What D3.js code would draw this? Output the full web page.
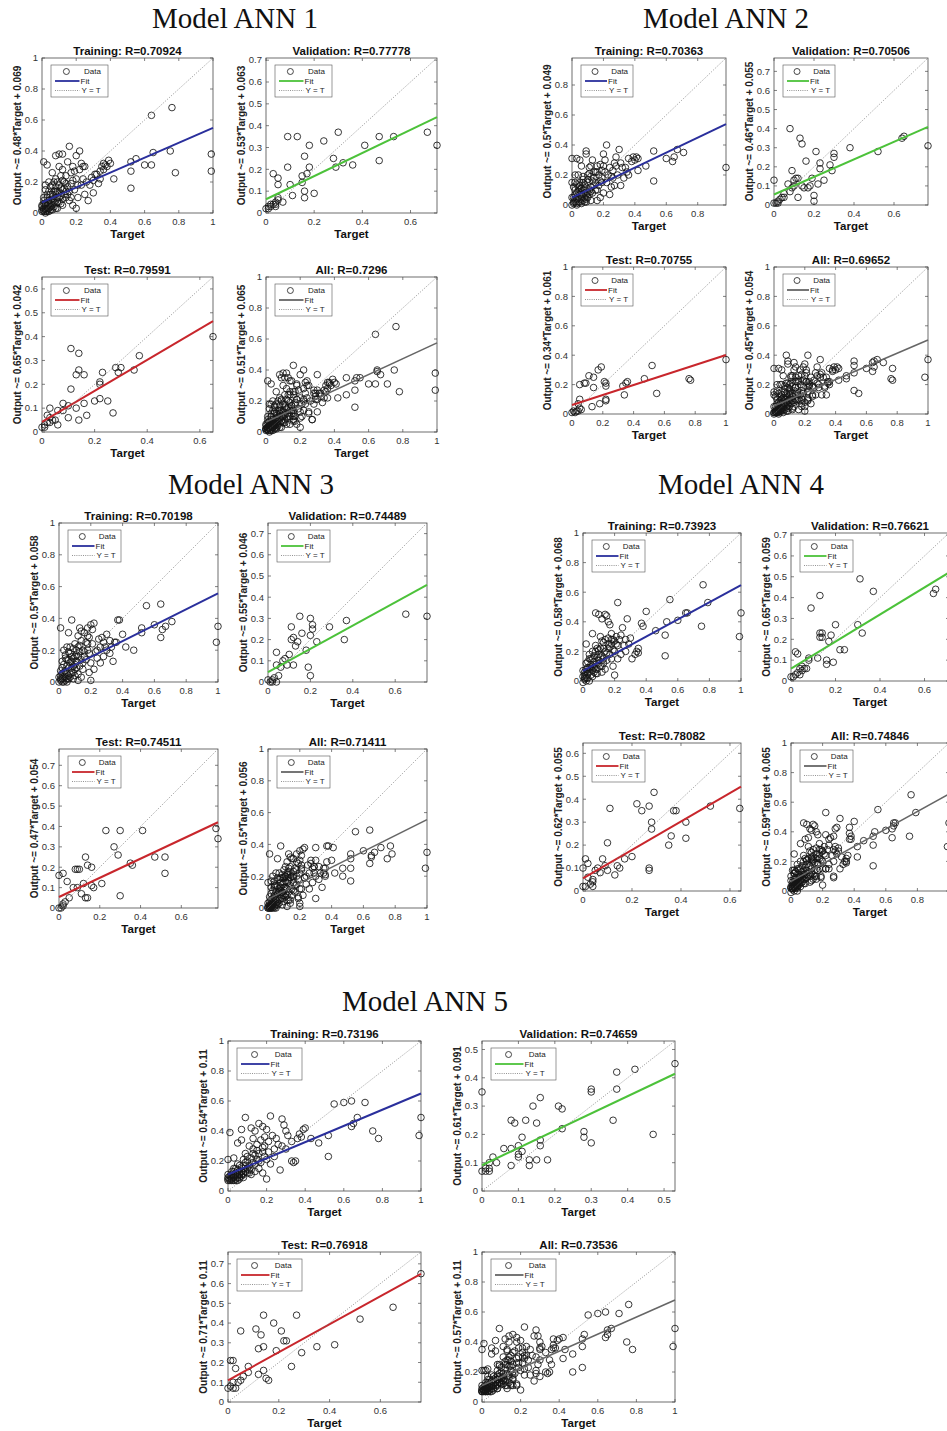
<!DOCTYPE html>
<html>
<head>
<meta charset="utf-8">
<script src="https://cdn.jsdelivr.net/npm/d3@7"></script>
<style>
  body { margin: 0; background: #fff; }
  text { font-family: "Liberation Sans", Arial, sans-serif; }
</style>
</head>
<body>
<script>
// ---------- data (target, output) ----------
const panelNames = ["Training", "Validation", "Test", "All"];
const modelNames = ["Model ANN 1", "Model ANN 2", "Model ANN 3", "Model ANN 4", "Model ANN 5"];

// R per panel
const ann1R = [0.70924, 0.77778, 0.79591, 0.7296];
const ann2R = [0.70363, 0.70506, 0.70755, 0.69652];
const ann3R = [0.70198, 0.74489, 0.74511, 0.71411];
const ann4R = [0.73923, 0.76621, 0.78082, 0.74846];
const ann5R = [0.73196, 0.74659, 0.76918, 0.73536];

// fit: [slope, intercept]
const ann1Fit = [[0.48, 0.069], [0.53, 0.063], [0.65, 0.042], [0.51, 0.065]];
const ann2Fit = [[0.5, 0.049], [0.46, 0.055], [0.34, 0.061], [0.45, 0.054]];
const ann3Fit = [[0.5, 0.058], [0.55, 0.046], [0.47, 0.054], [0.5, 0.056]];
const ann4Fit = [[0.58, 0.068], [0.65, 0.059], [0.62, 0.055], [0.59, 0.065]];
const ann5Fit = [[0.54, 0.11], [0.61, 0.091], [0.71, 0.11], [0.57, 0.11]];

// axis limits per panel
const ann1Max = [1, 0.71, 0.65, 1];
const ann2Max = [0.98, 0.77, 1, 1];
const ann3Max = [1, 0.75, 0.78, 1];
const ann4Max = [1, 0.71, 0.645, 1];
const ann5Max = [1, 0.53, 0.76, 1];

const ann1Train = [[0.64,0.63],[0.76,0.68],[0.99,0.38],[0.99,0.27],[0.78,0.26],[0.75,0.40],[0.65,0.39],[0.64,0.31],[0.60,0.31],[0.55,0.35],[0.52,0.33],[0.52,0.27],[0.52,0.16],[0.42,0.22],[0.39,0.34],[0.37,0.31],[0.36,0.32],[0.35,0.30],[0.34,0.22],[0.33,0.19],[0.31,0.25],[0.30,0.21],[0.27,0.08],[0.29,0.23],[0.25,0.30],[0.24,0.30],[0.22,0.40],[0.20,0.37],[0.18,0.30],[0.16,0.43],[0.12,0.38],[0.10,0.38],[0.08,0.37],[0.01,0.33],[0.03,0.31],[0.02,0.15],[0.04,0.20],[0.06,0.26],[0.08,0.22],[0.10,0.30],[0.12,0.28],[0.14,0.24],[0.15,0.33],[0.17,0.19],[0.19,0.15],[0.20,0.22],[0.22,0.28],[0.23,0.18],[0.25,0.12],[0.21,0.10],[0.20,0.03],[0.18,0.05],[0.16,0.08],[0.13,0.12],[0.11,0.16],[0.09,0.10],[0.07,0.14],[0.05,0.08],[0.03,0.05],[0.02,0.03],[0.01,0.02],[0.00,0.04],[0.04,0.03],[0.06,0.05],[0.08,0.06],[0.10,0.07],[0.12,0.05],[0.14,0.10],[0.05,0.12],[0.03,0.10],[0.01,0.08],[0.02,0.06],[0.06,0.18],[0.09,0.20],[0.11,0.24],[0.13,0.20],[0.15,0.17],[0.17,0.26],[0.19,0.27],[0.21,0.18],[0.24,0.22],[0.26,0.20],[0.28,0.18],[0.30,0.13],[0.32,0.25],[0.34,0.27],[0.36,0.28],[0.38,0.30],[0.40,0.32],[0.23,0.32],[0.07,0.04],[0.09,0.03],[0.05,0.02],[0.03,0.01],[0.00,0.02],[0.01,0.01],[0.02,0.01],[0.04,0.06],[0.06,0.09],[0.08,0.12],[0.10,0.13],[0.12,0.15],[0.14,0.14]];
const ann1TrainLow = [[0.01,0.03],[0.02,0.05],[0.03,0.02],[0.04,0.08],[0.05,0.04],[0.06,0.07],[0.07,0.09],[0.08,0.03],[0.09,0.14],[0.10,0.10],[0.11,0.06],[0.12,0.09],[0.13,0.16],[0.03,0.12],[0.04,0.14],[0.05,0.17],[0.02,0.18],[0.06,0.12],[0.07,0.20],[0.08,0.17],[0.09,0.07],[0.10,0.18],[0.11,0.11],[0.12,0.21],[0.14,0.19],[0.15,0.12],[0.16,0.14],[0.17,0.10],[0.18,0.21],[0.01,0.06],[0.00,0.01],[0.02,0.00],[0.03,0.03],[0.04,0.01],[0.05,0.06],[0.06,0.02],[0.07,0.07],[0.08,0.14],[0.00,0.05],[0.01,0.10]];
const ann1Val = [[0.67,0.37],[0.71,0.31],[0.53,0.35],[0.47,0.35],[0.47,0.24],[0.41,0.31],[0.36,0.22],[0.32,0.23],[0.30,0.37],[0.28,0.25],[0.29,0.21],[0.24,0.33],[0.20,0.09],[0.18,0.31],[0.18,0.21],[0.17,0.18],[0.16,0.26],[0.16,0.10],[0.16,0.07],[0.15,0.17],[0.15,0.14],[0.13,0.35],[0.11,0.08],[0.10,0.13],[0.09,0.35],[0.09,0.21],[0.05,0.16],[0.05,0.13],[0.05,0.07],[0.03,0.18],[0.07,0.05],[0.04,0.04],[0.04,0.05],[0.03,0.04],[0.02,0.04],[0.01,0.03],[0.00,0.02],[0.01,0.02],[0.02,0.03],[0.05,0.06],[0.04,0.03]];
const ann1Test = [[0.65,0.40],[0.37,0.32],[0.35,0.26],[0.30,0.27],[0.28,0.27],[0.29,0.25],[0.23,0.25],[0.22,0.21],[0.22,0.20],[0.22,0.14],[0.25,0.13],[0.27,0.08],[0.20,0.13],[0.17,0.07],[0.16,0.12],[0.16,0.24],[0.14,0.26],[0.14,0.33],[0.13,0.24],[0.11,0.35],[0.11,0.18],[0.13,0.10],[0.14,0.05],[0.10,0.11],[0.10,0.06],[0.08,0.12],[0.08,0.09],[0.06,0.09],[0.05,0.05],[0.06,0.03],[0.03,0.10],[0.03,0.06],[0.02,0.07],[0.04,0.05],[0.02,0.04],[0.01,0.03],[0.00,0.02],[0.01,0.02],[0.03,0.04]];

const ann2Train = [[0.98,0.25],[0.71,0.35],[0.67,0.37],[0.64,0.29],[0.65,0.32],[0.60,0.31],[0.52,0.36],[0.52,0.16],[0.47,0.26],[0.42,0.31],[0.41,0.32],[0.40,0.30],[0.39,0.32],[0.38,0.29],[0.42,0.23],[0.35,0.22],[0.36,0.20],[0.32,0.25],[0.30,0.37],[0.28,0.32],[0.27,0.28],[0.26,0.18],[0.25,0.12],[0.27,0.13],[0.22,0.40],[0.20,0.34],[0.18,0.27],[0.16,0.26],[0.15,0.22],[0.13,0.30],[0.12,0.26],[0.09,0.36],[0.09,0.34],[0.06,0.26],[0.03,0.31],[0.00,0.31],[0.05,0.30],[0.02,0.15],[0.04,0.20],[0.07,0.15],[0.10,0.20],[0.11,0.25],[0.14,0.18],[0.17,0.13],[0.19,0.15],[0.21,0.22],[0.23,0.20],[0.24,0.25],[0.26,0.23],[0.29,0.20],[0.31,0.13],[0.33,0.18],[0.20,0.08],[0.18,0.05],[0.15,0.10],[0.12,0.12],[0.10,0.08],[0.08,0.05],[0.06,0.06],[0.05,0.10],[0.03,0.04],[0.02,0.02],[0.01,0.01],[0.00,0.00],[0.04,0.02],[0.06,0.08],[0.08,0.10],[0.09,0.02],[0.07,0.03],[0.03,0.08],[0.01,0.05],[0.02,0.10],[0.05,0.15],[0.07,0.19],[0.10,0.15],[0.12,0.19],[0.14,0.13],[0.16,0.22],[0.19,0.18],[0.22,0.15],[0.24,0.07],[0.16,0.03],[0.11,0.10],[0.09,0.07],[0.04,0.12],[0.13,0.08],[0.36,0.31],[0.34,0.25],[0.31,0.28],[0.28,0.26],[0.25,0.19],[0.21,0.30]];
const ann2TrainLow = [[0.01,0.02],[0.02,0.04],[0.03,0.01],[0.04,0.05],[0.05,0.02],[0.06,0.04],[0.07,0.07],[0.08,0.02],[0.09,0.12],[0.10,0.05],[0.11,0.07],[0.12,0.03],[0.13,0.16],[0.03,0.14],[0.04,0.09],[0.05,0.13],[0.02,0.07],[0.06,0.11],[0.07,0.17],[0.08,0.14],[0.09,0.04],[0.10,0.17],[0.11,0.21],[0.12,0.09],[0.14,0.22],[0.15,0.15],[0.16,0.10],[0.17,0.20],[0.18,0.16],[0.01,0.12],[0.00,0.05],[0.00,0.15],[0.02,0.20],[0.03,0.00],[0.05,0.07],[0.06,0.01],[0.07,0.10],[0.08,0.08],[0.19,0.23],[0.20,0.26]];
const ann2Val = [[0.77,0.31],[0.65,0.36],[0.64,0.35],[0.52,0.28],[0.38,0.30],[0.30,0.27],[0.30,0.25],[0.29,0.18],[0.28,0.21],[0.25,0.13],[0.23,0.19],[0.23,0.22],[0.22,0.11],[0.21,0.28],[0.20,0.05],[0.20,0.02],[0.19,0.14],[0.18,0.10],[0.16,0.23],[0.15,0.09],[0.14,0.32],[0.13,0.35],[0.12,0.04],[0.11,0.14],[0.10,0.13],[0.09,0.18],[0.08,0.40],[0.09,0.09],[0.08,0.07],[0.07,0.11],[0.05,0.06],[0.04,0.04],[0.03,0.03],[0.02,0.02],[0.01,0.01],[0.00,0.13],[0.00,0.01],[0.02,0.01],[0.05,0.04],[0.10,0.10],[0.12,0.14],[0.17,0.09],[0.14,0.10]];
const ann2Test = [[1.0,0.37],[0.76,0.24],[0.77,0.23],[0.55,0.14],[0.52,0.33],[0.47,0.24],[0.36,0.22],[0.35,0.21],[0.34,0.13],[0.33,0.19],[0.22,0.21],[0.21,0.22],[0.22,0.19],[0.22,0.09],[0.22,0.10],[0.19,0.32],[0.17,0.30],[0.14,0.25],[0.14,0.18],[0.11,0.26],[0.09,0.21],[0.08,0.21],[0.05,0.20],[0.05,0.10],[0.13,0.05],[0.18,0.07],[0.04,0.07],[0.05,0.04],[0.04,0.02],[0.03,0.02],[0.02,0.01],[0.00,0.01],[0.01,0.02],[0.06,0.03]];

const ann3Train = [[1.0,0.35],[0.99,0.25],[0.71,0.38],[0.67,0.35],[0.65,0.33],[0.64,0.49],[0.64,0.28],[0.60,0.36],[0.55,0.48],[0.52,0.34],[0.52,0.31],[0.47,0.20],[0.42,0.22],[0.40,0.30],[0.38,0.39],[0.37,0.39],[0.35,0.25],[0.34,0.13],[0.32,0.18],[0.30,0.30],[0.28,0.25],[0.26,0.22],[0.25,0.27],[0.22,0.37],[0.21,0.33],[0.20,0.36],[0.19,0.28],[0.18,0.34],[0.16,0.31],[0.14,0.32],[0.13,0.34],[0.12,0.29],[0.10,0.24],[0.08,0.39],[0.06,0.31],[0.01,0.34],[0.03,0.20],[0.05,0.22],[0.07,0.18],[0.09,0.15],[0.11,0.20],[0.12,0.22],[0.15,0.20],[0.17,0.25],[0.20,0.12],[0.22,0.08],[0.19,0.06],[0.20,0.01],[0.23,0.19],[0.24,0.15],[0.26,0.12],[0.28,0.16],[0.30,0.20],[0.33,0.22],[0.36,0.25],[0.14,0.14],[0.13,0.10],[0.10,0.08],[0.08,0.06],[0.06,0.04],[0.04,0.03],[0.02,0.02],[0.01,0.01],[0.00,0.00],[0.03,0.06],[0.05,0.10],[0.07,0.12],[0.09,0.10],[0.02,0.13],[0.04,0.15],[0.06,0.14],[0.11,0.13],[0.16,0.16],[0.18,0.20],[0.21,0.24],[0.24,0.20],[0.27,0.28],[0.03,0.00],[0.01,0.04],[0.05,0.02],[0.08,0.09],[0.12,0.05],[0.15,0.08],[0.29,0.22],[0.32,0.26],[0.18,0.29],[0.14,0.26]];
const ann3TrainLow = [[0.01,0.02],[0.02,0.05],[0.03,0.03],[0.04,0.07],[0.05,0.05],[0.06,0.09],[0.07,0.05],[0.08,0.13],[0.09,0.06],[0.10,0.11],[0.11,0.09],[0.12,0.16],[0.13,0.19],[0.02,0.09],[0.03,0.11],[0.04,0.17],[0.05,0.14],[0.06,0.19],[0.07,0.22],[0.08,0.16],[0.09,0.21],[0.10,0.16],[0.11,0.17],[0.13,0.23],[0.15,0.12],[0.16,0.19],[0.17,0.14],[0.18,0.24],[0.19,0.18],[0.00,0.03],[0.01,0.07],[0.02,0.00],[0.04,0.01],[0.05,0.00],[0.06,0.02],[0.07,0.03],[0.09,0.02],[0.10,0.04],[0.12,0.01],[0.14,0.03]];
const ann3Val = [[0.75,0.31],[0.65,0.32],[0.37,0.29],[0.36,0.20],[0.29,0.26],[0.23,0.19],[0.21,0.27],[0.21,0.25],[0.20,0.30],[0.20,0.22],[0.19,0.07],[0.20,0.03],[0.18,0.15],[0.16,0.23],[0.15,0.31],[0.14,0.19],[0.13,0.17],[0.12,0.21],[0.11,0.20],[0.11,0.26],[0.10,0.13],[0.09,0.08],[0.08,0.11],[0.07,0.10],[0.06,0.07],[0.05,0.03],[0.04,0.14],[0.04,0.08],[0.03,0.02],[0.02,0.01],[0.01,0.00],[0.00,0.01],[0.02,0.00],[0.04,0.00],[0.12,0.08]];
const ann3Test = [[0.77,0.39],[0.78,0.34],[0.52,0.25],[0.52,0.17],[0.47,0.25],[0.41,0.38],[0.36,0.21],[0.35,0.22],[0.30,0.38],[0.29,0.26],[0.30,0.06],[0.27,0.30],[0.23,0.38],[0.21,0.12],[0.17,0.10],[0.16,0.11],[0.16,0.20],[0.14,0.21],[0.13,0.25],[0.14,0.05],[0.13,0.05],[0.12,0.12],[0.11,0.07],[0.10,0.19],[0.09,0.19],[0.08,0.19],[0.09,0.10],[0.07,0.10],[0.05,0.05],[0.04,0.13],[0.02,0.17],[0.00,0.16],[0.03,0.03],[0.02,0.01],[0.01,0.00],[0.00,0.00],[0.02,0.02]];

const ann4Train = [[1.0,0.46],[0.99,0.30],[0.76,0.65],[0.79,0.53],[0.75,0.37],[0.66,0.46],[0.65,0.46],[0.60,0.41],[0.55,0.55],[0.53,0.40],[0.52,0.31],[0.52,0.17],[0.46,0.34],[0.40,0.47],[0.38,0.37],[0.37,0.39],[0.35,0.22],[0.34,0.20],[0.33,0.18],[0.31,0.15],[0.30,0.29],[0.28,0.42],[0.27,0.28],[0.26,0.24],[0.22,0.53],[0.21,0.30],[0.20,0.27],[0.18,0.32],[0.17,0.38],[0.16,0.40],[0.15,0.44],[0.14,0.45],[0.12,0.42],[0.10,0.45],[0.08,0.46],[0.06,0.32],[0.02,0.25],[0.04,0.18],[0.06,0.20],[0.08,0.24],[0.10,0.21],[0.12,0.27],[0.14,0.28],[0.16,0.29],[0.18,0.25],[0.20,0.20],[0.22,0.24],[0.24,0.31],[0.25,0.36],[0.22,0.15],[0.20,0.04],[0.19,0.10],[0.17,0.18],[0.15,0.14],[0.13,0.12],[0.11,0.10],[0.09,0.16],[0.07,0.13],[0.05,0.08],[0.03,0.05],[0.02,0.02],[0.01,0.01],[0.00,-0.01],[0.01,0.04],[0.03,0.09],[0.04,0.06],[0.06,0.10],[0.08,0.08],[0.10,0.14],[0.12,0.17],[0.14,0.20],[0.16,0.22],[0.18,0.15],[0.24,0.18],[0.27,0.20],[0.29,0.25],[0.02,0.12],[0.05,0.15],[0.07,0.06],[0.09,0.05],[0.13,0.22],[0.11,0.30],[0.19,0.28],[0.23,0.28],[0.35,0.19]];
const ann4TrainLow = [[0.01,0.02],[0.02,0.04],[0.03,0.02],[0.04,0.09],[0.05,0.04],[0.06,0.07],[0.07,0.09],[0.08,0.11],[0.09,0.08],[0.10,0.12],[0.11,0.16],[0.12,0.10],[0.13,0.15],[0.02,0.08],[0.03,0.13],[0.04,0.15],[0.05,0.11],[0.06,0.15],[0.07,0.17],[0.08,0.20],[0.09,0.22],[0.10,0.18],[0.11,0.22],[0.13,0.26],[0.15,0.19],[0.16,0.25],[0.17,0.23],[0.18,0.28],[0.19,0.21],[0.00,0.03],[0.01,0.06],[0.00,0.07],[0.02,0.00],[0.03,0.06],[0.04,0.00],[0.06,0.03],[0.08,0.05],[0.12,0.06],[0.14,0.08],[0.21,0.25]];
const ann4Val = [[0.65,0.44],[0.64,0.42],[0.37,0.43],[0.32,0.23],[0.31,0.49],[0.30,0.27],[0.24,0.15],[0.22,0.15],[0.20,0.27],[0.19,0.09],[0.18,0.22],[0.17,0.19],[0.16,0.08],[0.16,0.10],[0.14,0.21],[0.14,0.23],[0.13,0.41],[0.13,0.21],[0.13,0.23],[0.12,0.11],[0.09,0.35],[0.08,0.11],[0.08,0.10],[0.07,0.06],[0.06,0.06],[0.05,0.05],[0.04,0.03],[0.03,0.04],[0.03,0.13],[0.02,0.14],[0.01,0.02],[0.00,0.02],[0.02,0.03],[0.05,0.07],[0.04,0.06]];
const ann4Test = [[0.64,0.36],[0.52,0.37],[0.42,0.30],[0.42,0.23],[0.38,0.35],[0.37,0.35],[0.36,0.24],[0.35,0.20],[0.29,0.43],[0.28,0.30],[0.28,0.27],[0.27,0.37],[0.27,0.09],[0.27,0.10],[0.24,0.35],[0.22,0.38],[0.20,0.15],[0.17,0.14],[0.15,0.10],[0.14,0.11],[0.13,0.07],[0.11,0.36],[0.10,0.21],[0.10,0.09],[0.09,0.11],[0.08,0.14],[0.07,0.08],[0.06,0.10],[0.05,0.09],[0.04,0.05],[0.04,0.04],[0.03,0.03],[0.02,0.12],[0.01,0.14],[0.00,0.10],[0.01,0.02],[0.00,0.02],[0.02,0.06],[0.04,0.02]];

const ann5Train = [[1.0,0.49],[0.99,0.37],[0.78,0.35],[0.75,0.40],[0.71,0.59],[0.67,0.49],[0.65,0.45],[0.64,0.43],[0.64,0.60],[0.60,0.59],[0.55,0.58],[0.52,0.37],[0.52,0.23],[0.47,0.32],[0.40,0.42],[0.39,0.41],[0.36,0.35],[0.35,0.20],[0.34,0.19],[0.33,0.20],[0.30,0.40],[0.29,0.44],[0.28,0.48],[0.27,0.14],[0.25,0.35],[0.22,0.50],[0.20,0.41],[0.18,0.43],[0.16,0.45],[0.14,0.40],[0.12,0.42],[0.09,0.49],[0.07,0.41],[0.01,0.39],[0.00,0.21],[0.03,0.22],[0.05,0.32],[0.07,0.34],[0.09,0.25],[0.11,0.30],[0.13,0.28],[0.15,0.27],[0.17,0.34],[0.19,0.30],[0.21,0.26],[0.23,0.37],[0.24,0.23],[0.26,0.31],[0.31,0.37],[0.33,0.33],[0.37,0.38],[0.20,0.08],[0.18,0.12],[0.16,0.15],[0.14,0.18],[0.12,0.14],[0.10,0.12],[0.08,0.15],[0.06,0.13],[0.05,0.18],[0.04,0.10],[0.03,0.09],[0.02,0.08],[0.01,0.07],[0.00,0.08],[0.00,0.11],[0.02,0.13],[0.04,0.07],[0.06,0.09],[0.08,0.11],[0.10,0.20],[0.12,0.22],[0.14,0.24],[0.16,0.20],[0.18,0.26],[0.20,0.21],[0.22,0.18],[0.24,0.28],[0.03,0.15],[0.05,0.11],[0.07,0.10],[0.09,0.17],[0.11,0.12],[0.13,0.35],[0.15,0.31],[0.19,0.36],[0.21,0.33],[0.28,0.30],[0.30,0.28],[0.38,0.36],[0.43,0.35]];
const ann5TrainLow = [[0.01,0.08],[0.02,0.09],[0.03,0.07],[0.04,0.12],[0.05,0.09],[0.06,0.11],[0.07,0.13],[0.08,0.09],[0.09,0.13],[0.10,0.15],[0.11,0.17],[0.12,0.11],[0.13,0.19],[0.02,0.11],[0.03,0.13],[0.04,0.15],[0.05,0.14],[0.06,0.17],[0.07,0.16],[0.08,0.21],[0.09,0.19],[0.10,0.23],[0.11,0.14],[0.13,0.25],[0.15,0.21],[0.16,0.25],[0.17,0.19],[0.18,0.29],[0.19,0.23],[0.00,0.07],[0.01,0.10],[0.00,0.09],[0.02,0.07],[0.03,0.10],[0.04,0.08],[0.05,0.07],[0.06,0.08],[0.07,0.11],[0.08,0.12],[0.14,0.13]];
const ann5Val = [[0.53,0.45],[0.47,0.20],[0.42,0.43],[0.37,0.42],[0.37,0.36],[0.36,0.25],[0.30,0.35],[0.30,0.36],[0.30,0.17],[0.28,0.19],[0.28,0.21],[0.22,0.29],[0.22,0.22],[0.21,0.30],[0.18,0.11],[0.16,0.33],[0.16,0.16],[0.16,0.18],[0.15,0.24],[0.15,0.11],[0.14,0.30],[0.13,0.09],[0.13,0.11],[0.12,0.25],[0.11,0.19],[0.11,0.14],[0.10,0.13],[0.10,0.12],[0.10,0.16],[0.09,0.24],[0.08,0.25],[0.08,0.09],[0.08,0.15],[0.06,0.15],[0.04,0.10],[0.03,0.12],[0.02,0.10],[0.02,0.07],[0.01,0.08],[0.00,0.07],[0.00,0.35],[0.01,0.07],[0.02,0.08]];
const ann5Test = [[0.76,0.65],[0.65,0.48],[0.52,0.42],[0.42,0.29],[0.35,0.28],[0.29,0.25],[0.27,0.44],[0.25,0.18],[0.23,0.31],[0.22,0.31],[0.21,0.36],[0.19,0.26],[0.18,0.40],[0.16,0.11],[0.15,0.12],[0.14,0.44],[0.14,0.28],[0.14,0.16],[0.13,0.34],[0.12,0.27],[0.11,0.37],[0.12,0.14],[0.08,0.18],[0.08,0.15],[0.06,0.13],[0.05,0.36],[0.05,0.11],[0.04,0.10],[0.03,0.07],[0.02,0.10],[0.02,0.21],[0.03,0.17],[0.01,0.21],[0.00,0.07],[0.01,0.08],[0.02,0.07]];

// ---------- page layout ----------
const W = 947, H = 1431;
const fitColors = ["#2a2f9c", "#4cc23a", "#c8262c", "#666666"];

// panel grid of each model: left of the 2 columns, top of the 2 rows, box size
const grids = [
  { title: [235, 28],  cols: [42, 266],  rows: [58, 277],   w: 171, h: 155 },
  { title: [726, 28],  cols: [572, 774], rows: [58, 267],   w: 154, h: 147 },
  { title: [251, 494], cols: [59, 268],  rows: [523, 749],  w: 159, h: 159 },
  { title: [741, 494], cols: [583, 791], rows: [533, 743],  w: 158, h: 148 },
  { title: [425, 1011], cols: [228, 482], rows: [1041, 1252], w: 193, h: 150 }
];

const models = [
  { sets: [ann1Train.concat(ann1TrainLow), ann1Val, ann1Test], r: ann1R, fit: ann1Fit, max: ann1Max },
  { sets: [ann2Train.concat(ann2TrainLow), ann2Val, ann2Test], r: ann2R, fit: ann2Fit, max: ann2Max },
  { sets: [ann3Train.concat(ann3TrainLow), ann3Val, ann3Test], r: ann3R, fit: ann3Fit, max: ann3Max },
  { sets: [ann4Train.concat(ann4TrainLow), ann4Val, ann4Test], r: ann4R, fit: ann4Fit, max: ann4Max },
  { sets: [ann5Train.concat(ann5TrainLow), ann5Val, ann5Test], r: ann5R, fit: ann5Fit, max: ann5Max }
];

const svg = d3.select("body").append("svg")
  .attr("width", W).attr("height", H)
  .style("display", "block");

svg.append("rect").attr("width", W).attr("height", H).attr("fill", "#fff");

const tickFmt = d => String(+d.toFixed(2));

models.forEach((m, mi) => {
  const grid = grids[mi];

  svg.append("text")
    .attr("x", grid.title[0]).attr("y", grid.title[1])
    .attr("text-anchor", "middle")
    .style("font-family", "'Liberation Serif', 'Times New Roman', serif")
    .style("font-size", "29px")
    .attr("fill", "#111")
    .text(modelNames[mi]);

  // the "All" panel is the union of the three subsets
  const allSet = m.sets[0].concat(m.sets[1], m.sets[2]);
  const panelData = [m.sets[0], m.sets[1], m.sets[2], allSet];

  panelData.forEach((pts, pi) => {
    const x0 = grid.cols[pi % 2], y0 = grid.rows[Math.floor(pi / 2)];
    const w = grid.w, h = grid.h;
    const mx = m.max[pi];
    const x = d3.scaleLinear().domain([0, mx]).range([x0, x0 + w]);
    const y = d3.scaleLinear().domain([0, mx]).range([y0 + h, y0]);

    const yStep = mx >= 0.95 ? 0.2 : 0.1;
    const xStep = mx >= 0.95 ? 0.2 : (mx < 0.6 ? 0.1 : 0.2);
    const xt = d3.range(0, mx + 1e-6, xStep);
    const yt = d3.range(0, mx + 1e-6, yStep);

    const g = svg.append("g");

    g.append("rect")
      .attr("x", x0).attr("y", y0).attr("width", w).attr("height", h)
      .attr("fill", "#fff").attr("stroke", "#4a4a4a").attr("stroke-width", 0.8);

    // inward ticks on all four sides
    const tk = g.append("g").attr("stroke", "#4a4a4a").attr("stroke-width", 0.7);
    xt.forEach(t => {
      tk.append("line").attr("x1", x(t)).attr("x2", x(t)).attr("y1", y0 + h).attr("y2", y0 + h - 3);
      tk.append("line").attr("x1", x(t)).attr("x2", x(t)).attr("y1", y0).attr("y2", y0 + 3);
    });
    yt.forEach(t => {
      tk.append("line").attr("x1", x0).attr("x2", x0 + 3).attr("y1", y(t)).attr("y2", y(t));
      tk.append("line").attr("x1", x0 + w).attr("x2", x0 + w - 3).attr("y1", y(t)).attr("y2", y(t));
    });

    // labels past the page edge are cut off in the picture too
    g.selectAll(".xl").data(xt.filter(t => x(t) < W - 4)).enter().append("text")
      .attr("x", d => x(d)).attr("y", y0 + h + 12)
      .attr("text-anchor", "middle")
      .style("font-size", "9.5px").attr("fill", "#333")
      .text(tickFmt);
    g.selectAll(".yl").data(yt).enter().append("text")
      .attr("x", x0 - 4).attr("y", d => y(d) + 3.3)
      .attr("text-anchor", "end")
      .style("font-size", "9.5px").attr("fill", "#333")
      .text(tickFmt);

    // data circles
    g.append("g").selectAll("circle").data(pts).enter().append("circle")
      .attr("cx", d => x(d[0])).attr("cy", d => y(d[1]))
      .attr("r", 3.3)
      .attr("fill", "none").attr("stroke", "#141414").attr("stroke-width", 0.85);

    // fit line
    const [a, b] = m.fit[pi];
    g.append("line")
      .attr("x1", x(0)).attr("y1", y(b))
      .attr("x2", x(mx)).attr("y2", y(a * mx + b))
      .attr("stroke", fitColors[pi]).attr("stroke-width", pi === 3 ? 1.6 : 2);

    // Y = T
    g.append("line")
      .attr("x1", x(0)).attr("y1", y(0)).attr("x2", x(mx)).attr("y2", y(mx))
      .attr("stroke", "#777").attr("stroke-width", 0.8)
      .attr("stroke-dasharray", "1,1.6");

    // legend
    const lw = Math.round(w * 0.335), lh = 32;
    const lx = x0 + 9, ly = y0 + 7;
    const lg = g.append("g");
    lg.append("rect").attr("x", lx).attr("y", ly).attr("width", lw).attr("height", lh)
      .attr("fill", "#fff").attr("stroke", "#555").attr("stroke-width", 0.6);
    const segEnd = lx + lw * 0.5;
    const rowY = [ly + 6.5, ly + 16, ly + 25.5];
    lg.append("circle").attr("cx", lx + lw * 0.27).attr("cy", rowY[0]).attr("r", 3)
      .attr("fill", "none").attr("stroke", "#1a1a1a").attr("stroke-width", 0.8);
    lg.append("line").attr("x1", lx + 4).attr("x2", segEnd).attr("y1", rowY[1]).attr("y2", rowY[1])
      .attr("stroke", fitColors[pi]).attr("stroke-width", 1.8);
    lg.append("line").attr("x1", lx + 4).attr("x2", segEnd).attr("y1", rowY[2]).attr("y2", rowY[2])
      .attr("stroke", "#777").attr("stroke-width", 0.8).attr("stroke-dasharray", "1,1.2");
    const legText = ["Data", "Fit", "Y = T"];
    const legX = [lx + lw * 0.58, segEnd + 1, segEnd + 2];
    legText.forEach((t, k) => {
      lg.append("text").attr("x", legX[k]).attr("y", rowY[k] + 2.8)
        .style("font-size", "8px").attr("fill", "#222").text(t);
    });

    // titles and labels
    g.append("text")
      .attr("x", x0 + w / 2).attr("y", y0 - 3)
      .attr("text-anchor", "middle")
      .style("font-size", "11.5px").style("font-weight", "bold").attr("fill", "#111")
      .text(panelNames[pi] + ": R=" + m.r[pi]);
    g.append("text")
      .attr("x", x0 + w / 2).attr("y", y0 + h + 25)
      .attr("text-anchor", "middle")
      .style("font-size", "11.5px").style("font-weight", "bold").attr("fill", "#111")
      .text("Target");
    g.append("text")
      .attr("transform", "translate(" + (x0 - 21) + "," + (y0 + h / 2) + ") rotate(-90)")
      .attr("text-anchor", "middle")
      .style("font-size", "10px").style("font-weight", "bold").attr("fill", "#222")
      .text("Output ~= " + a + "*Target + " + b);
  });
});
</script>
</body>
</html>
